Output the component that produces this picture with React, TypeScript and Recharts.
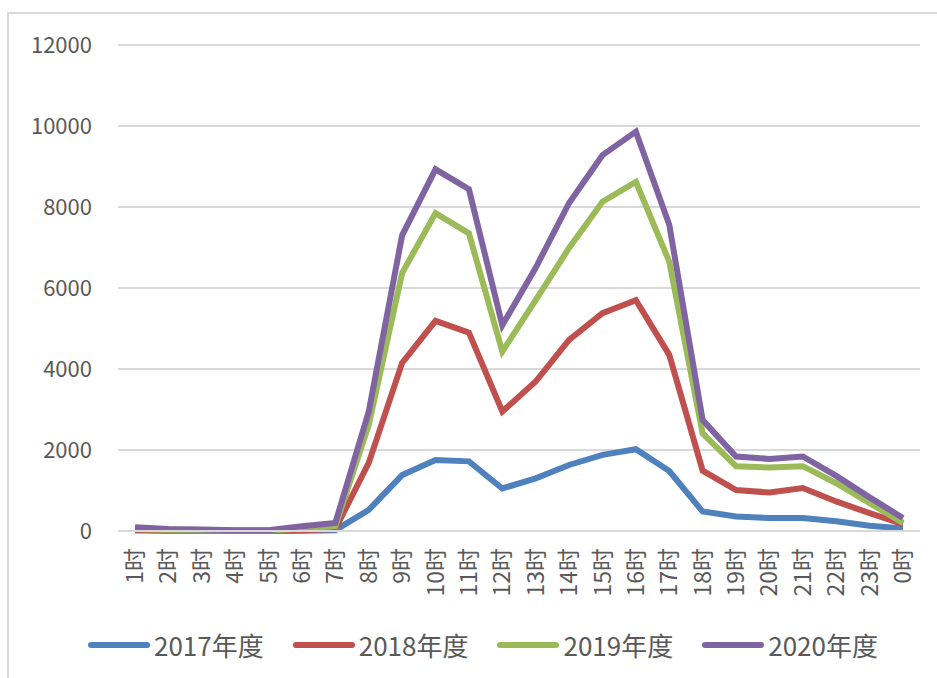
import { LineChart, Line, XAxis, YAxis, CartesianGrid } from 'recharts';

const hours = [
  '1时', '2时', '3时', '4时', '5时', '6时', '7时', '8时', '9时', '10时', '11时', '12时',
  '13时', '14时', '15时', '16时', '17时', '18时', '19时', '20时', '21时', '22时', '23时', '0时',
];

const y2017 = [10, 5, 5, 0, 0, 5, 20, 520, 1380, 1750, 1720, 1050, 1300, 1630, 1880, 2020, 1480, 480, 360, 320, 320, 240, 130, 60];
const y2018 = [30, 15, 10, 5, 5, 20, 50, 1680, 4150, 5190, 4900, 2950, 3690, 4720, 5380, 5700, 4350, 1490, 1010, 950, 1060, 730, 440, 170];
const y2019 = [50, 30, 20, 10, 10, 60, 120, 2620, 6370, 7850, 7350, 4430, 5700, 6990, 8130, 8620, 6650, 2410, 1600, 1570, 1600, 1180, 690, 200];
const y2020 = [90, 50, 40, 20, 20, 120, 200, 2950, 7300, 8930, 8440, 5080, 6500, 8100, 9280, 9860, 7560, 2740, 1840, 1780, 1840, 1360, 830, 320];

const yTicks = [0, 2000, 4000, 6000, 8000, 10000, 12000];

const series = [
  { key: 's2017', name: '2017年度', color: '#4F81BD' },
  { key: 's2018', name: '2018年度', color: '#C0504D' },
  { key: 's2019', name: '2019年度', color: '#9BBB59' },
  { key: 's2020', name: '2020年度', color: '#8064A2' },
];

const data = hours.map((h, i) => ({
  hour: h,
  s2017: y2017[i],
  s2018: y2018[i],
  s2019: y2019[i],
  s2020: y2020[i],
}));

const FONT = '"Noto Sans CJK SC", "Noto Sans", sans-serif';

// rotated hour labels, reading bottom to top, top end just under the axis
function HourTick(props: any) {
  const { x, payload } = props;
  return (
    <g transform={`translate(${x},548)`}>
      <text
        transform="rotate(-90)"
        textAnchor="end"
        dy="0.35em"
        fill="#595959"
        fontSize={23}
        fontFamily={FONT}
      >
        {payload.value}
      </text>
    </g>
  );
}

export default function App() {
  return (
    <div style={{ position: 'absolute', left: 0, top: 0, width: 937, height: 678, background: '#fff', overflow: 'hidden' }}>
      <div
        style={{
          position: 'absolute', left: 7, top: 12, width: 930, height: 666,
          borderTop: '2px solid #d9d9d9', borderLeft: '2px solid #d9d9d9', boxSizing: 'border-box',
        }}
      />
      <div style={{ position: 'absolute', left: 0, top: 0 }}>
        <LineChart width={937} height={678} data={data} margin={{ top: 45, right: 17, left: 0, bottom: 0 }}>
          <CartesianGrid vertical={false} stroke="#d9d9d9" strokeWidth={2} />
          <XAxis
            dataKey="hour"
            interval={0}
            height={147}
            padding={{ left: 17, right: 17 }}
            axisLine={{ stroke: '#d9d9d9', strokeWidth: 2 }}
            tickLine={false}
            tick={<HourTick />}
          />
          <YAxis
            width={118}
            domain={[0, 12000]}
            ticks={yTicks}
            axisLine={false}
            tickLine={false}
            tickMargin={20}
            tick={{ fill: '#595959', fontSize: 22, fontFamily: FONT }}
          />
          {series.map((s) => (
            <Line
              key={s.key}
              type="linear"
              dataKey={s.key}
              name={s.name}
              stroke={s.color}
              strokeWidth={6}
              dot={false}
              isAnimationActive={false}
            />
          ))}
        </LineChart>
      </div>
      <div
        style={{
          position: 'absolute', left: 88, top: 626, display: 'flex', gap: 29,
          fontFamily: FONT, fontSize: 26, color: '#595959', alignItems: 'center',
        }}
      >
        {series.map((s) => (
          <div key={s.key} style={{ display: 'flex', alignItems: 'center' }}>
            <span style={{ display: 'inline-block', width: 62, height: 6, borderRadius: 3, background: s.color, marginRight: 4 }} />
            <span>{s.name}</span>
          </div>
        ))}
      </div>
    </div>
  );
}
